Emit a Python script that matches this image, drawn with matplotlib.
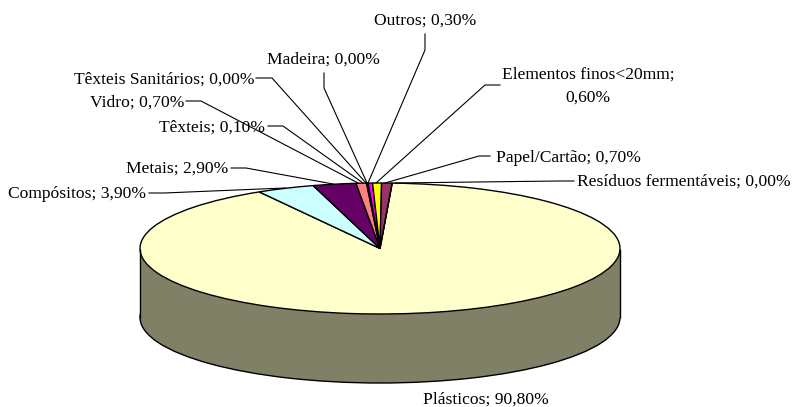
#!/usr/bin/env python
# -*- coding: utf-8 -*-
import matplotlib
matplotlib.use('Agg')
import matplotlib.pyplot as plt
from matplotlib.patches import Rectangle

plt.rcParams['font.family'] = ['Liberation Serif', 'DejaVu Serif']

# clockwise order, as in the picture
categories = ['Plásticos', 'Compósitos', 'Metais', 'Vidro', 'Têxteis',
              'Têxteis Sanitários', 'Madeira', 'Outros',
              'Elementos finos<20mm', 'Papel/Cartão', 'Resíduos fermentáveis']
values = [90.8, 3.9, 2.9, 0.7, 0.1, 0.0, 0.0, 0.3, 0.6, 0.7, 0.0]
colors = ['#FFFFCC', '#CCFFFF', '#660066', '#FF8080', '#0066CC', '#FFFFFF',
          '#FFFFFF', '#FF00FF', '#FFFF00', '#993366', '#FFFFFF']
side_color = '#808066'

W, H = 793, 407
cx, cy, rx, ry, depth = 380, 248.5, 240, 65.5, 69

fig = plt.figure(figsize=(W / 100, H / 100), dpi=100)

# pie axes: radius 1 -> rx pixels in x and ry pixels in y
ax = fig.add_axes([0, 0, 1, 1])
ax.pie([1], colors=[side_color], center=(0, -depth / ry), radius=1, startangle=90,
       wedgeprops=dict(edgecolor='black', linewidth=1.0))
ax.add_patch(Rectangle((-1, -depth / ry), 2, depth / ry, facecolor=side_color,
                       edgecolor='none'))
ax.plot([-1, -1], [0, -depth / ry], color='black', lw=1.0, solid_capstyle='butt')
ax.plot([1, 1], [0, -depth / ry], color='black', lw=1.0, solid_capstyle='butt')
ax.pie(values, colors=colors, startangle=87.1, counterclock=False,
       wedgeprops=dict(edgecolor='black', linewidth=1.0))
ax.set_aspect('auto')
ax.set_xlim(-cx / rx, (W - cx) / rx)
ax.set_ylim((cy - H) / ry, cy / ry)
ax.axis('off')

# overlay in pixel coordinates for labels and leader lines
ov = fig.add_axes([0, 0, 1, 1])
ov.set_xlim(0, W)
ov.set_ylim(H, 0)
ov.axis('off')
ov.patch.set_alpha(0)

leaders = [
    [(256, 78), (272, 78), (366, 183)],
    [(186, 101), (201, 101), (358, 183)],
    [(268, 126), (283, 126), (363, 183)],
    [(324, 73), (324, 88), (367, 183)],
    [(231, 168), (246, 168), (333, 184)],
    [(149, 193), (164, 193), (285, 188)],
    [(425, 34), (425, 50), (368, 183)],
    [(500, 85), (485, 85), (376, 183)],
    [(490, 156), (479, 156), (385, 183)],
    [(574, 181), (558, 181), (395, 183)],
]
for pts in leaders:
    ov.plot([p[0] for p in pts], [p[1] for p in pts], color='black', lw=0.8)

fs = 12.6
labels = [
    ('Têxteis Sanitários; 0,00%', 254, 80, 'right'),
    ('Vidro; 0,70%', 184, 103, 'right'),
    ('Têxteis; 0,10%', 265, 128, 'right'),
    ('Madeira; 0,00%', 323, 60, 'center'),
    ('Metais; 2,90%', 228, 169, 'right'),
    ('Compósitos; 3,90%', 146, 194, 'right'),
    ('Outros; 0,30%', 425, 21, 'center'),
    ('Elementos finos<20mm;', 588, 75, 'center'),
    ('0,60%', 588, 98, 'center'),
    ('Papel/Cartão; 0,70%', 496, 158, 'left'),
    ('Resíduos fermentáveis; 0,00%', 577, 182, 'left'),
    ('Plásticos; 90,80%', 486, 400, 'center'),
]
for txt, x, y, ha in labels:
    ov.text(x, y, txt, fontsize=fs, ha=ha, va='center', color='black')

fig.savefig('out.png', dpi=100)
